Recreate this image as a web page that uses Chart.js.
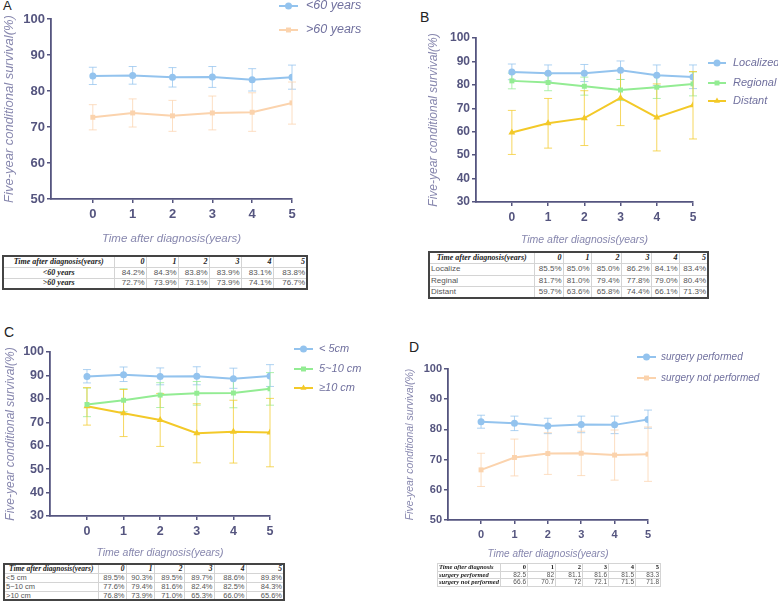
<!DOCTYPE html>
<html>
<head>
<meta charset="utf-8">
<script src="https://cdn.jsdelivr.net/npm/chart.js@4.4.0/dist/chart.umd.min.js"></script>
<style>
body { margin: 0; background: #fff; width: 778px; height: 604px; position: relative; overflow: hidden; font-family: "Liberation Sans", Arial, sans-serif; }
canvas { position: absolute; }
.letter { position: absolute; color: #222; line-height: 1; }
table { position: absolute; border-collapse: collapse; table-layout: fixed; border: 2px solid #444; background: #fff; }
td { border: 1px solid #d4d4d4; padding: 0 1px; overflow: hidden; white-space: nowrap; color: #555; font-family: "Liberation Sans", Arial, sans-serif; line-height: 1; }
td.h { font-family: "Liberation Serif", "Times New Roman", serif; font-weight: bold; font-style: italic; color: #222; }
td.hn { font-family: "Liberation Serif", "Times New Roman", serif; font-weight: bold; color: #222; }
</style>
</head>
<body>
<div class="letter" style="left:3px;top:-1px;font-size:13px">A</div>
<div class="letter" style="left:420px;top:10px;font-size:14px">B</div>
<div class="letter" style="left:4px;top:325px;font-size:14px">C</div>
<div class="letter" style="left:409px;top:340px;font-size:14px">D</div>
<script>
const years = [0, 1, 2, 3, 4, 5];
const yearLabels = ['0', '1', '2', '3', '4', '5'];

// A - age
const under60 = [84.2, 84.3, 83.8, 83.9, 83.1, 83.8];
const under60Low = [81.8, 81.9, 81.1, 81.0, 80.0, 80.5];
const under60High = [86.6, 86.8, 86.5, 86.8, 86.2, 87.2];
const over60 = [72.7, 73.9, 73.1, 73.9, 74.1, 76.7];
const over60Low = [69.2, 70.0, 68.8, 69.2, 68.8, 70.8];
const over60High = [76.2, 77.8, 77.4, 78.6, 79.5, 82.5];

// B - stage
const localized = [85.5, 85.0, 85.0, 86.2, 84.1, 83.4];
const localizedLow = [82.2, 81.6, 81.4, 82.3, 79.7, 78.4];
const localizedHigh = [88.9, 88.5, 88.7, 90.2, 88.5, 88.5];
const regional = [81.7, 81.0, 79.4, 77.8, 79.0, 80.4];
const regionalLow = [78.3, 77.5, 75.6, 73.3, 74.2, 75.3];
const regionalHigh = [85.0, 84.5, 83.3, 82.3, 83.8, 85.5];
const distant = [59.7, 63.6, 65.8, 74.4, 66.1, 71.3];
const distantLow = [50.3, 53.0, 54.1, 62.6, 51.8, 56.9];
const distantHigh = [69.1, 74.2, 77.5, 86.2, 80.4, 85.7];

// C - tumor size
const under5 = [89.5, 90.3, 89.5, 89.7, 88.6, 89.8];
const under5Low = [86.8, 87.4, 86.0, 86.0, 84.5, 85.3];
const under5High = [92.5, 93.6, 93.2, 93.7, 93.1, 94.6];
const size5to10 = [77.6, 79.4, 81.6, 82.4, 82.5, 84.3];
const size5to10Low = [72.4, 74.5, 76.3, 77.3, 76.2, 77.3];
const size5to10High = [84.6, 84.3, 86.9, 87.4, 88.8, 91.2];
const over10 = [76.8, 73.9, 71.0, 65.3, 66.0, 65.6];
const over10Low = [68.8, 63.9, 59.7, 52.7, 52.6, 51.0];
const over10High = [84.8, 84.0, 82.3, 77.9, 79.4, 80.2];

// D - surgery
const surgeryYes = [82.5, 82, 81.1, 81.6, 81.5, 83.3];
const surgeryYesLow = [80.4, 79.6, 78.6, 78.9, 78.6, 80.4];
const surgeryYesHigh = [84.7, 84.4, 83.7, 84.4, 84.4, 86.4];
const surgeryNo = [66.6, 70.7, 72, 72.1, 71.5, 71.8];
const surgeryNoLow = [61.1, 64.6, 65.1, 64.7, 63.2, 62.8];
const surgeryNoHigh = [72.1, 76.8, 78.9, 79.4, 79.8, 80.8];

const BLUE = '#93c3ee';
const PEACH = '#fbd3ad';
const GREEN = '#93ec93';
const YELLOW = '#f3c928';
const AXIS = '#55557f';
const TITLE = '#8787ae';
const LEGEND = '#70709e';

function fade(hex, a) {
    const n = parseInt(hex.slice(1), 16);
    return `rgba(${n >> 16}, ${(n >> 8) & 255}, ${n & 255}, ${a})`;
}

// error bars drawn under the lines, using the chart scales
const errorBars = {
    id: 'errorBars',
    beforeDatasetsDraw(chart) {
        const { ctx, scales: { x, y } } = chart;
        chart.data.datasets.forEach(ds => {
            ctx.save();
            ctx.strokeStyle = fade(ds.borderColor, 0.75);
            ctx.lineWidth = 1;
            ds.data.forEach((p, i) => {
                const px = x.getPixelForValue(p.x);
                const top = y.getPixelForValue(ds.high[i]);
                const bot = y.getPixelForValue(ds.low[i]);
                ctx.beginPath();
                ctx.moveTo(px, top); ctx.lineTo(px, bot);
                ctx.moveTo(px - 4, top); ctx.lineTo(px + 4, top);
                ctx.moveTo(px - 4, bot); ctx.lineTo(px + 4, bot);
                ctx.stroke();
            });
            ctx.restore();
        });
    }
};

function legendPlugin(box, lg) {
    return {
        id: 'panelLegend',
        afterDraw(chart) {
            const ctx = chart.ctx;
            chart.data.datasets.forEach((ds, i) => {
                const y = lg.ys[i] - box.top;
                ctx.save();
                ctx.strokeStyle = ds.borderColor;
                ctx.lineWidth = 2;
                ctx.beginPath();
                ctx.moveTo(lg.x1 - box.left, y);
                ctx.lineTo(lg.x2 - box.left, y);
                ctx.stroke();
                ctx.fillStyle = ds.borderColor;
                Chart.helpers.drawPoint(ctx, { pointStyle: ds.pointStyle, radius: 3.5, rotation: 0, borderWidth: 0 },
                    (lg.x1 + lg.x2) / 2 - box.left, y);
                ctx.fillStyle = LEGEND;
                ctx.font = `italic ${lg.size}px "Liberation Sans", Arial, sans-serif`;
                ctx.textBaseline = 'middle';
                ctx.fillText(ds.label, lg.text - box.left, y);
                ctx.restore();
            });
        }
    };
}

function drawPanel(p) {
    const cv = document.createElement('canvas');
    cv.width = p.box.width;
    cv.height = p.box.height;
    cv.style.left = p.box.left + 'px';
    cv.style.top = p.box.top + 'px';
    document.body.appendChild(cv);

    const datasets = p.series.map(s => ({
        label: s.label,
        data: years.map((x, i) => ({ x: x, y: s.values[i] })),
        low: s.low,
        high: s.high,
        borderColor: s.color,
        backgroundColor: s.color,
        borderWidth: 2,
        pointStyle: s.point,
        pointRadius: s.point === 'triangle' ? 4 : 3.5,
        pointBorderWidth: 0,
        pointBackgroundColor: s.color,
        tension: 0,
        fill: false
    }));

    const tickFont = { family: '"Liberation Sans", Arial, sans-serif', size: p.tickSize, weight: 'bold' };

    new Chart(cv, {
        type: 'line',
        data: { datasets: datasets },
        options: {
            responsive: false,
            animation: false,
            devicePixelRatio: 1,
            layout: {
                padding: {
                    top: p.area.top - p.box.top,
                    right: p.box.left + p.box.width - p.area.right,
                    left: 0,
                    bottom: 0
                }
            },
            plugins: { legend: { display: false }, tooltip: { enabled: false } },
            scales: {
                x: {
                    type: 'linear',
                    min: p.xMin,
                    max: 5,
                    afterBuildTicks: s => { s.ticks = years.map(v => ({ value: v })); },
                    afterFit: s => { s.height = p.box.top + p.box.height - p.area.bottom; },
                    grid: { drawOnChartArea: false, tickLength: 4, color: AXIS, lineWidth: 1.5 },
                    border: { color: AXIS, width: 1.8 },
                    ticks: { font: tickFont, color: AXIS, padding: p.xTickPad, maxRotation: 0 },
                    title: {
                        display: true, text: 'Time after diagnosis(years)', color: TITLE,
                        font: { size: p.xTitleSize, style: 'italic' }, padding: { top: 0, bottom: p.xTitlePad }
                    }
                },
                y: {
                    min: p.yMin,
                    max: 100,
                    afterFit: s => { s.width = p.area.left - p.box.left; },
                    grid: { drawOnChartArea: false, tickLength: 4, color: AXIS, lineWidth: 1.5 },
                    border: { color: AXIS, width: 1.8 },
                    ticks: { stepSize: 10, font: tickFont, color: AXIS, padding: 2 },
                    title: {
                        display: true, text: 'Five-year conditional survival(%)', color: TITLE,
                        font: { size: p.yTitleSize, style: 'italic' }, padding: { top: p.yTitlePad, bottom: 0 }
                    }
                }
            }
        },
        plugins: [errorBars, legendPlugin(p.box, p.legend)]
    });
}

function buildTable(t) {
    const tbl = document.createElement('table');
    tbl.style.left = t.left + 'px';
    tbl.style.top = t.top + 'px';
    tbl.style.width = t.cols.reduce((a, b) => a + b, 0) + 'px';
    tbl.style.fontSize = t.fontSize + 'px';
    if (t.border) tbl.style.border = t.border;
    const cg = document.createElement('colgroup');
    t.cols.forEach(w => {
        const c = document.createElement('col');
        c.style.width = w + 'px';
        cg.appendChild(c);
    });
    tbl.appendChild(cg);

    const head = document.createElement('tr');
    head.style.height = t.rowH + 'px';
    let cell = document.createElement('td');
    cell.className = 'h';
    cell.textContent = t.headLabel;
    cell.style.textAlign = t.headAlign;
    head.appendChild(cell);
    yearLabels.forEach(l => {
        const c = document.createElement('td');
        c.className = t.headNumClass;
        c.textContent = l;
        c.style.textAlign = 'right';
        head.appendChild(c);
    });
    tbl.appendChild(head);

    t.rows.forEach(r => {
        const tr = document.createElement('tr');
        tr.style.height = t.rowH + 'px';
        const lc = document.createElement('td');
        if (r.cls) lc.className = r.cls;
        lc.textContent = r.label;
        lc.style.textAlign = r.align || 'left';
        if (r.underline) lc.style.textDecoration = 'underline';
        tr.appendChild(lc);
        r.values.forEach(v => {
            const c = document.createElement('td');
            c.textContent = t.fmt(v);
            c.style.textAlign = 'right';
            tr.appendChild(c);
        });
        tbl.appendChild(tr);
    });
    document.body.appendChild(tbl);
}

const pct = v => v.toFixed(1) + '%';

// Panel A
drawPanel({
    box: { left: 0, top: 0, width: 390, height: 252 },
    area: { left: 51, right: 292, top: 19, bottom: 199 },
    xMin: -1.05, yMin: 50,
    tickSize: 13, xTickPad: 4, xTitleSize: 11.5, xTitlePad: 6, yTitleSize: 13, yTitlePad: 2,
    series: [
        { label: '<60 years', values: under60, low: under60Low, high: under60High, color: BLUE, point: 'circle' },
        { label: '>60 years', values: over60, low: over60Low, high: over60High, color: PEACH, point: 'rect' }
    ],
    legend: { x1: 279, x2: 298, text: 306, ys: [6, 30], size: 12.5 }
});

// Panel B
drawPanel({
    box: { left: 423, top: 0, width: 355, height: 252 },
    area: { left: 476, right: 693, top: 38, bottom: 202 },
    xMin: -0.99, yMin: 30,
    tickSize: 12, xTickPad: 4, xTitleSize: 10.5, xTitlePad: 6, yTitleSize: 12, yTitlePad: 3,
    series: [
        { label: 'Localized', values: localized, low: localizedLow, high: localizedHigh, color: BLUE, point: 'circle' },
        { label: 'Regional', values: regional, low: regionalLow, high: regionalHigh, color: GREEN, point: 'rect' },
        { label: 'Distant', values: distant, low: distantLow, high: distantHigh, color: YELLOW, point: 'triangle' }
    ],
    legend: { x1: 708, x2: 726, text: 733, ys: [63, 83, 101], size: 11 }
});

// Panel C
drawPanel({
    box: { left: 0, top: 300, width: 390, height: 266 },
    area: { left: 50, right: 270, top: 352, bottom: 516 },
    xMin: -1.01, yMin: 30,
    tickSize: 12.5, xTickPad: 4, xTitleSize: 10.5, xTitlePad: 7, yTitleSize: 12, yTitlePad: 3,
    series: [
        { label: '< 5cm', values: under5, low: under5Low, high: under5High, color: BLUE, point: 'circle' },
        { label: '5~10 cm', values: size5to10, low: size5to10Low, high: size5to10High, color: GREEN, point: 'rect' },
        { label: '≥10 cm', values: over10, low: over10Low, high: over10High, color: YELLOW, point: 'triangle' }
    ],
    legend: { x1: 294, x2: 313, text: 319, ys: [349, 369, 388], size: 11 }
});

// Panel D
drawPanel({
    box: { left: 400, top: 300, width: 378, height: 267 },
    area: { left: 448, right: 648, top: 369, bottom: 520 },
    xMin: -0.99, yMin: 50,
    tickSize: 11, xTickPad: 4, xTitleSize: 10, xTitlePad: 7, yTitleSize: 10.5, yTitlePad: 4,
    series: [
        { label: 'surgery performed', values: surgeryYes, low: surgeryYesLow, high: surgeryYesHigh, color: BLUE, point: 'circle' },
        { label: 'surgery not performed', values: surgeryNo, low: surgeryNoLow, high: surgeryNoHigh, color: PEACH, point: 'rect' }
    ],
    legend: { x1: 637, x2: 656, text: 661, ys: [357, 378], size: 10 }
});

// tables
buildTable({
    left: 2, top: 255, cols: [111, 32, 32, 31, 32, 32, 34], rowH: 11, fontSize: 8,
    headLabel: 'Time after diagnosis(years)', headAlign: 'center', headNumClass: 'h', fmt: pct,
    rows: [
        { label: '<60 years', values: under60, cls: 'h', align: 'center' },
        { label: '>60 years', values: over60, cls: 'h', align: 'center' }
    ]
});
buildTable({
    left: 428, top: 251, cols: [105, 29, 28, 30, 30, 28, 29], rowH: 11.5, fontSize: 8,
    headLabel: 'Time after diagnosis(years)', headAlign: 'center', headNumClass: 'h', fmt: pct,
    rows: [
        { label: 'Localize', values: localized },
        { label: 'Reginal', values: regional },
        { label: 'Distant', values: distant }
    ]
});
buildTable({
    left: 3, top: 563, cols: [94, 28, 28, 30, 30, 32, 38], rowH: 9, fontSize: 7.5,
    headLabel: 'Time after diagnosis(years)', headAlign: 'center', headNumClass: 'h', fmt: pct,
    rows: [
        { label: '<5 cm', values: under5 },
        { label: '5~10 cm', values: size5to10 },
        { label: '>10 cm', values: over10, underline: true }
    ]
});
buildTable({
    left: 437, top: 563, cols: [63, 27, 28, 27, 26, 27, 25], rowH: 6.5, fontSize: 6.5, border: '1.5px solid #333',
    headLabel: 'Time after diagnosis', headAlign: 'left', headNumClass: 'hn', fmt: v => String(v),
    rows: [
        { label: 'surgery performed', values: surgeryYes, cls: 'h' },
        { label: 'surgery not performed', values: surgeryNo, cls: 'h' }
    ]
});
</script>
</body>
</html>
